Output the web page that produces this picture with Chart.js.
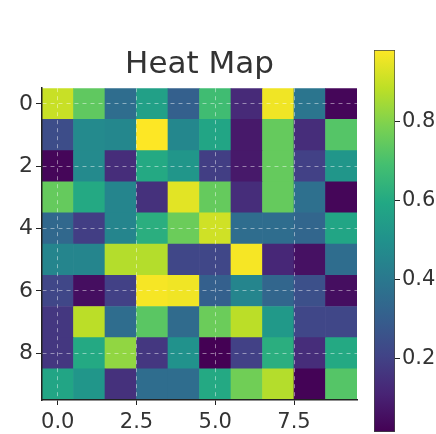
<!DOCTYPE html>
<html>
<head>
<meta charset="utf-8">
<script src="https://cdn.jsdelivr.net/npm/chart.js@4/dist/chart.umd.min.js"></script>
<style>
  html, body { margin: 0; padding: 0; background: #fff; overflow: hidden; }
  body { width: 436px; height: 434px; position: relative; }
  #mapBox { position: absolute; left: 0; top: 0; width: 370px; height: 434px; }
  #barBox { position: absolute; left: 374px; top: 0; width: 62px; height: 434px; }
</style>
</head>
<body>
<div id="mapBox"><canvas id="heatmap"></canvas></div>
<div id="barBox"><canvas id="colorbar"></canvas></div>
<script>
// cell values, one array per row (row 0 is the top row)
const row0 = [0.90, 0.74, 0.36, 0.56, 0.31, 0.68, 0.13, 0.96, 0.39, 0.03];
const row1 = [0.24, 0.47, 0.46, 0.98, 0.46, 0.58, 0.08, 0.75, 0.14, 0.72];
const row2 = [0.03, 0.47, 0.14, 0.60, 0.52, 0.19, 0.08, 0.75, 0.20, 0.52];
const row3 = [0.75, 0.60, 0.45, 0.15, 0.94, 0.75, 0.14, 0.75, 0.37, 0.03];
const row4 = [0.34, 0.19, 0.45, 0.62, 0.76, 0.91, 0.36, 0.36, 0.33, 0.58];
const row5 = [0.45, 0.45, 0.87, 0.87, 0.22, 0.22, 0.97, 0.12, 0.06, 0.36];
const row6 = [0.22, 0.05, 0.20, 0.97, 0.96, 0.31, 0.45, 0.33, 0.25, 0.05];
const row7 = [0.17, 0.88, 0.36, 0.73, 0.35, 0.76, 0.88, 0.53, 0.22, 0.22];
const row8 = [0.17, 0.60, 0.82, 0.17, 0.50, 0.015, 0.20, 0.62, 0.14, 0.60];
const row9 = [0.58, 0.52, 0.15, 0.36, 0.36, 0.60, 0.77, 0.87, 0.02, 0.72];
const rows = [row0, row1, row2, row3, row4, row5, row6, row7, row8, row9];

const xTicks = [0, 2.5, 5, 7.5];
const yTicks = [0, 2, 4, 6, 8];
const barTicks = [0.2, 0.4, 0.6, 0.8];

const allValues = rows.flat();
const vmin = Math.min(...allValues);
const vmax = Math.max(...allValues);

// viridis
const viridis = ['#440154', '#482475', '#414487', '#355f8d', '#2a788e', '#21918c',
                 '#22a884', '#44bf70', '#7ad151', '#bddf26', '#fde725'];

function hexRgb(h) {
    return [parseInt(h.slice(1, 3), 16), parseInt(h.slice(3, 5), 16), parseInt(h.slice(5, 7), 16)];
}

function colorFor(v) {
    let t = (v - vmin) / (vmax - vmin);
    t = Math.max(0, Math.min(1, t)) * (viridis.length - 1);
    const i = Math.min(Math.floor(t), viridis.length - 2);
    const f = t - i;
    const a = hexRgb(viridis[i]), b = hexRgb(viridis[i + 1]);
    const c = a.map((x, k) => Math.round(x + (b[k] - x) * f));
    return `rgb(${c[0]},${c[1]},${c[2]})`;
}

const cells = [];
const cellColors = [];
rows.forEach((row, i) => {
    row.forEach((v, j) => {
        cells.push({ x: j, y: [i - 0.5, i + 0.5] });
        cellColors.push(colorFor(v));
    });
});

const font = { family: 'DejaVu Sans', size: 21 };
const textColor = '#333';

// centre the title over the map itself, not over map + y axis
const centerTitle = {
    id: 'centerTitle',
    afterLayout(chart) {
        if (chart.titleBlock) {
            chart.titleBlock.left = chart.chartArea.left;
            chart.titleBlock.right = chart.chartArea.right;
        }
    }
};

new Chart(document.getElementById('heatmap'), {
    type: 'bar',
    data: {
        datasets: [{
            data: cells,
            backgroundColor: cellColors,
            borderWidth: 0,
            categoryPercentage: 1,
            barPercentage: 1,
            grouped: false
        }]
    },
    options: {
        responsive: true,
        maintainAspectRatio: false,
        animation: false,
        layout: { padding: { left: 0, right: 13, top: 0, bottom: 0 } },
        plugins: {
            legend: { display: false },
            tooltip: { enabled: false },
            title: {
                display: true,
                text: 'Heat Map',
                color: textColor,
                font: { family: 'DejaVu Sans', size: 31, weight: 'normal' },
                padding: { top: 46, bottom: 5 }
            }
        },
        scales: {
            x: {
                type: 'linear',
                offset: false,
                min: -0.5,
                max: 9.5,
                afterBuildTicks: (scale) => { scale.ticks = xTicks.map(v => ({ value: v })); },
                afterFit: (scale) => { scale.height = 34; },
                ticks: {
                    color: textColor,
                    font: font,
                    padding: 5,
                    maxRotation: 0,
                    callback: (v) => Number(v).toFixed(1)
                },
                grid: {
                    offset: false,
                    z: 1,
                    color: 'rgba(255,255,255,0.45)',
                    lineWidth: 1,
                    tickColor: '#222',
                    tickLength: 5
                },
                border: { display: true, z: 1, color: '#222', width: 1.5, dash: [4, 4] }
            },
            y: {
                type: 'linear',
                reverse: true,
                min: -0.5,
                max: 9.5,
                afterBuildTicks: (scale) => { scale.ticks = yTicks.map(v => ({ value: v })); },
                afterFit: (scale) => { scale.width = 42; },
                ticks: {
                    color: textColor,
                    font: { family: 'DejaVu Sans', size: 22 },
                    padding: 3,
                    callback: (v) => String(v)
                },
                grid: {
                    z: 1,
                    color: 'rgba(255,255,255,0.45)',
                    lineWidth: 1,
                    tickColor: '#222',
                    tickLength: 6
                },
                border: { display: true, z: 1, color: '#222', width: 1.5, dash: [4, 4] }
            }
        }
    },
    plugins: [centerTitle]
});

new Chart(document.getElementById('colorbar'), {
    type: 'bar',
    data: {
        labels: [''],
        datasets: [{
            data: [[vmin, vmax]],
            backgroundColor: (ctx) => {
                const chart = ctx.chart;
                if (!chart.chartArea) return viridis[5];
                const y = chart.scales.y;
                const g = chart.ctx.createLinearGradient(0, y.getPixelForValue(vmin), 0, y.getPixelForValue(vmax));
                viridis.forEach((c, i) => g.addColorStop(i / (viridis.length - 1), c));
                return g;
            },
            borderColor: '#444',
            borderWidth: 1,
            borderSkipped: false,
            categoryPercentage: 1,
            barPercentage: 1
        }]
    },
    options: {
        responsive: true,
        maintainAspectRatio: false,
        animation: false,
        layout: { padding: { left: 0, right: 0, top: 50, bottom: 2 } },
        plugins: { legend: { display: false }, tooltip: { enabled: false } },
        scales: {
            x: { display: false },
            y: {
                position: 'right',
                min: vmin,
                max: vmax,
                afterBuildTicks: (scale) => { scale.ticks = barTicks.map(v => ({ value: v })); },
                afterFit: (scale) => {
                    scale.width = 41;
                    // ticks sit well inside the bar, no label padding needed at the ends
                    scale.paddingTop = 0;
                    scale.paddingBottom = 0;
                },
                ticks: {
                    color: textColor,
                    font: font,
                    padding: 2,
                    callback: (v) => Number(v).toFixed(1)
                },
                grid: { drawOnChartArea: false, tickColor: '#222', tickLength: 5 },
                border: { display: false }
            }
        }
    }
});
</script>
</body>
</html>
